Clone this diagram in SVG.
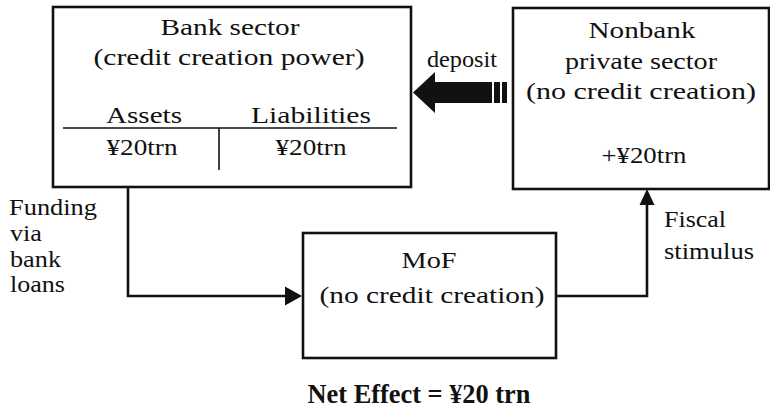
<svg xmlns="http://www.w3.org/2000/svg" width="770" height="409" viewBox="0 0 770 409">
<defs>
<style>
text{font-family:"Liberation Serif","Times New Roman",serif;fill:#111}
.t{font-size:24px;text-anchor:middle}
.s{font-size:24px}
.box{fill:#fff;stroke:#111;stroke-width:2.6}
.ln{fill:none;stroke:#111;stroke-width:2.6}
.thin{stroke:#111;stroke-width:1.6}
</style>
</defs>
<rect width="770" height="409" fill="#fff"/>
<g id="connectors">
<path class="ln" d="M128,187V296H290"/>
<path d="M302,296L285,286.5V305.5z" fill="#111"/>
<path class="ln" d="M556,296H647V200"/>
<path d="M647,189L639.5,205H654.5z" fill="#111"/>
<g id="deposit-arrow" fill="#111">
<path d="M413,92.5L435,72V82H492V103H435V113z"/>
<rect x="494" y="82" width="6" height="21"/>
<rect x="502" y="82" width="5" height="21"/>
</g>
<text class="t" x="462" y="67" textLength="70" lengthAdjust="spacingAndGlyphs">deposit</text>
<text class="s" x="9" y="215" textLength="88" lengthAdjust="spacingAndGlyphs">Funding</text>
<text class="s" x="10" y="241" textLength="32" lengthAdjust="spacingAndGlyphs">via</text>
<text class="s" x="10" y="267" textLength="51" lengthAdjust="spacingAndGlyphs">bank</text>
<text class="s" x="10" y="292" textLength="55" lengthAdjust="spacingAndGlyphs">loans</text>
<text class="s" x="664" y="227" textLength="62" lengthAdjust="spacingAndGlyphs">Fiscal</text>
<text class="s" x="664" y="259" textLength="90" lengthAdjust="spacingAndGlyphs">stimulus</text>
</g>
<g id="bank">
<rect class="box" x="53" y="7" width="358" height="180"/>
<text class="t" x="230" y="35" textLength="139" lengthAdjust="spacingAndGlyphs">Bank sector</text>
<text class="t" x="229" y="65" textLength="271" lengthAdjust="spacingAndGlyphs">(credit creation power)</text>
<text class="t" x="144" y="123" textLength="76" lengthAdjust="spacingAndGlyphs">Assets</text>
<text class="t" x="311" y="123" textLength="120" lengthAdjust="spacingAndGlyphs">Liabilities</text>
<line class="thin" x1="63" y1="128" x2="397" y2="128"/>
<line class="thin" x1="219" y1="128" x2="219" y2="170"/>
<text class="t" x="142" y="155" textLength="71" lengthAdjust="spacingAndGlyphs">¥20trn</text>
<text class="t" x="311" y="155" textLength="71" lengthAdjust="spacingAndGlyphs">¥20trn</text>
</g>
<g id="nonbank">
<rect class="box" x="513" y="8" width="256" height="181"/>
<text class="t" x="642" y="38" textLength="107" lengthAdjust="spacingAndGlyphs">Nonbank</text>
<text class="t" x="641" y="69" textLength="152" lengthAdjust="spacingAndGlyphs">private sector</text>
<text class="t" x="641" y="99" textLength="230" lengthAdjust="spacingAndGlyphs">(no credit creation)</text>
<text class="t" x="644" y="163" textLength="85" lengthAdjust="spacingAndGlyphs">+¥20trn</text>
</g>
<g id="mof">
<rect class="box" x="303" y="233" width="253" height="125"/>
<text class="t" x="429" y="268" textLength="55" lengthAdjust="spacingAndGlyphs">MoF</text>
<text class="t" x="432" y="303" textLength="225" lengthAdjust="spacingAndGlyphs">(no credit creation)</text>
</g>
<text x="419" y="403" text-anchor="middle" font-size="28" font-weight="bold" textLength="223" lengthAdjust="spacingAndGlyphs">Net Effect = ¥20 trn</text>
</svg>
